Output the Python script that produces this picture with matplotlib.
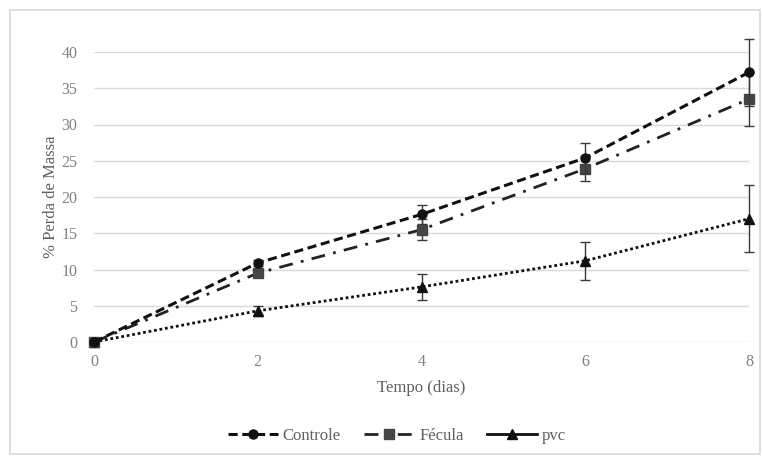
import numpy as np
import matplotlib
matplotlib.use('Agg')
import matplotlib.pyplot as plt
from matplotlib.lines import Line2D
from matplotlib.patches import Rectangle

plt.rcParams['font.family'] = ['Liberation Serif', 'DejaVu Serif']

#dados
dias = [0, 2, 4, 6, 8]
controle = [0.0, 10.9, 17.6, 25.4, 37.2]
controle_err = [0.0, 0.4, 1.3, 2.1, 4.6]
fecula = [0.0, 9.5, 15.5, 23.9, 33.5]
fecula_err = [0.0, 0.5, 1.4, 1.7, 3.7]
pvc = [0.0, 4.3, 7.6, 11.2, 17.0]
pvc_err = [0.0, 0.7, 1.8, 2.6, 4.6]
nomes = ['Controle', 'Fécula', 'pvc']
yticks = [0, 5, 10, 15, 20, 25, 30, 35, 40]
xticks = [0, 2, 4, 6, 8]

W, H = 763, 457
fig = plt.figure(figsize=(W/100, H/100), dpi=100)
fig.patches.append(Rectangle((10/W, 3/H), 750/W, 444/H, transform=fig.transFigure,
                             fill=False, edgecolor='#d9d9d9', linewidth=1.2))
ax = fig.add_axes([94/W, (H-342)/H, (749-94)/W, (342-52)/H])

grid = '#d9d9d9'
tick_col = '#808080'
for v in yticks:
    ax.axhline(v, color=grid, linewidth=1.0, zorder=0)

ebar = dict(ecolor='#3a3a3a', elinewidth=1.0, capsize=3.5, capthick=1.0, clip_on=False)
ax.errorbar(dias, pvc, yerr=pvc_err, color='#111111', linestyle=(0, (1, 1)), linewidth=2.0,
            marker='^', markersize=7, zorder=3, **ebar)
ax.errorbar(dias, fecula, yerr=fecula_err, color='#222222', linestyle=(0, (5, 3, 1, 3)),
            linewidth=2.0, marker='s', markersize=6.5, markerfacecolor='#454545',
            markeredgecolor='#454545', zorder=4, **ebar)
ax.errorbar(dias, controle, yerr=controle_err, color='#111111', linestyle=(0, (3, 1.5)),
            linewidth=2.2, marker='o', markersize=6.5, zorder=5, **ebar)

ax.set_xlim(0, 8)
ax.set_ylim(0, 40)
ax.set_xticks(xticks)
ax.set_yticks(yticks)
ax.tick_params(length=0, colors=tick_col, labelsize=11.5)
ax.tick_params(axis='x', pad=9)
ax.tick_params(axis='y', pad=12)
for s in ax.spines.values():
    s.set_visible(False)

ax.set_xlabel('Tempo (dias)', color='#606060', fontsize=12, labelpad=7)
ax.set_ylabel('% Perda de Massa', color='#606060', fontsize=12, labelpad=2)

handles = [
    Line2D([], [], color='#111111', linestyle=(0, (3, 1.5)), linewidth=2.2, marker='o', markersize=6.5),
    Line2D([], [], color='#222222', linestyle=(0, (5, 3, 1, 3)), linewidth=2.0, marker='s',
           markersize=6.5, markerfacecolor='#454545', markeredgecolor='#454545'),
    Line2D([], [], color='#111111', linestyle='-', linewidth=2.0, marker='^', markersize=7),
]
leg = fig.legend(handles, nomes, loc='center', bbox_to_anchor=(397/W, (H-436)/H), ncol=3,
                 frameon=False, fontsize=12, handlelength=3.0, columnspacing=1.4, handletextpad=0.3)
for t in leg.get_texts():
    t.set_color('#606060')

fig.savefig('out.png', dpi=100)
